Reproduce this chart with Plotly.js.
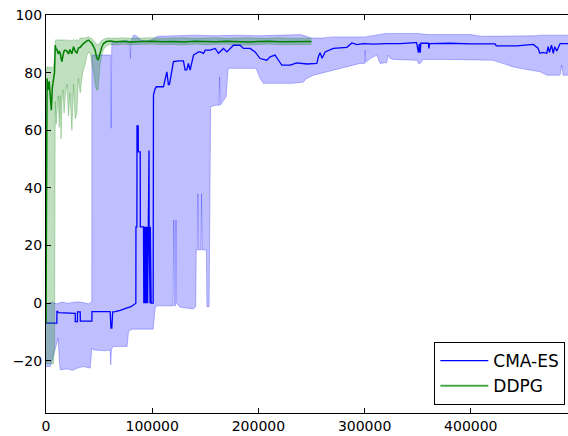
<!DOCTYPE html>
<html><head><meta charset="utf-8">
<script src="https://cdn.plot.ly/plotly-3.0.1.min.js"></script>
<style>html,body{margin:0;padding:0;overflow:hidden;background:#fff}#chart{width:577px;height:436px}</style>
</head><body><div id="chart"></div>
<script>
const seriesNames = ['CMA-ES', 'DDPG'];
const xTicks = [0, 100000, 200000, 300000, 400000, 500000];
const yTicks = [-20, 0, 20, 40, 60, 80, 100];

// CMA-ES mean
const cmaX = [0,10200,10300,12000,27500,27600,29600,29700,32200,32300,43200,43300,60400,61200,62000,62800,65100,70000,75000,80000,82400,84000,84600,84700,85600,85700,86800,86900,88700,88800,91800,92100,92400,92700,93000,93300,93600,93900,94200,94500,94800,95100,95400,95700,96000,96300,96500,96600,97000,97100,97400,97700,98000,98300,98600,98900,99000,100900,101200,102800,104000,110600,112200,113800,115300,116300,120000,125000,129400,131000,132600,134100,135700,138900,143600,145200,148300,150000,154600,159300,162400,167100,170300,176500,182800,185900,192200,196900,201600,207900,211100,215700,218900,222100,229900,236200,245600,255000,256500,258100,260000,262800,270600,283300,288000,292700,298900,308300,320900,333400,347600,349000,350700,351500,352300,353000,360100,360500,361200,380000,400000,422900,424000,443300,458900,463300,465000,468000,471500,472800,474000,476000,477700,479000,481000,484100,492000];
const cmaMean = [-6.9,-6.9,-2.7,-3.3,-3.5,-6.4,-6.4,-3.0,-3.0,-6.2,-6.2,-2.9,-2.9,-8.6,-8.6,-3.0,-2.9,-2.5,-1.8,-1.2,-0.6,0,0,26.5,26.5,61.5,61.5,52.5,52.5,26.5,26.5,0,26.5,0,26.5,0,26.5,0,26.5,0,26.5,0,26.5,0,26.5,0,26.5,53,53,26.5,0,26.5,0,26.5,0,26.5,0,0,72.2,74.5,75.1,75.1,77.4,80.3,75.7,76,83.8,84.1,84.1,80.9,81,83.2,80.9,86.1,87.2,87.2,86.7,87.8,87.8,88.4,86.7,88.4,87.2,89.5,89.5,88.4,88.4,87.2,84.9,84.3,85.5,86.1,84.3,82.6,82.6,83.4,83.0,83.2,85.5,86.9,85,87.2,88.4,88.8,90.3,89.7,90.1,89.9,90.1,90.1,90.4,90.4,86.9,90,86.9,90.2,90.2,88.4,90.1,90.2,90.0,90.0,89.3,89.3,89.8,88.5,86.7,87,86.7,89,87,89.5,86.7,89,87.5,90.1,90.1];

// CMA-ES band upper
const cmaUpX = [0,5000,10000,15000,20000,25000,30000,35000,40000,43100,43200,61000,61400,61800,62000,70000,75000,79000,79500,80000,82000,84000,86000,88000,90000,95000,100000,105000,120000,140000,160000,180000,200000,220000,240000,250000,260000,270000,300000,320000,350000,360000,400000,410000,440000,460000,465000,492000];
const cmaUp = [-0.3,0.3,-0.2,0.4,0,0.2,0.5,0.2,-0.2,0.3,86.1,86.1,60.7,86.1,90.7,90.5,91.2,90.8,85,90.8,92.8,93,92.5,91.5,91.2,91,91.5,92.6,92.8,93,92.8,93,92.8,93,93.2,92,92,92.4,92.4,93.6,93.6,93.2,93.2,92.6,92.6,92.8,93,93];

// CMA-ES band lower
const cmaLoX = [0,4000,5600,11500,12500,13400,20000,25000,30000,35000,41600,43200,44700,55000,60400,61000,61600,63300,70000,76400,77700,80900,90000,100900,102800,104400,119700,120300,120800,122000,122400,122900,126300,138600,141000,141500,142500,143000,143500,146000,146500,147000,151000,151500,153600,155000,160000,163000,163500,164000,169600,171500,197800,201600,204700,232700,242100,245600,251800,264400,276900,295800,300000,300500,301000,305200,308300,311500,314600,320900,322400,324000,326800,349400,350700,352300,355100,377700,421000,430400,439800,451000,465200,471800,484100,485600,486900,492000];
const cmaLo = [-22,-22,-20,-12.1,-20,-23.1,-22.8,-23.3,-22.5,-22,-22.5,-15.6,-16.2,-16.5,-16.2,-21.4,-16,-15,-15,-15,-9.8,-9,-9,-9,-1.7,-0.9,-0.9,28.9,-0.9,-0.9,28.9,0,-1.4,-2,-1.2,18.5,18.5,38,18.5,18.5,38,18.5,18.5,-1.2,-1.2,68.2,68.7,68.7,78.5,68.7,71.6,81.5,81.5,78.0,76.3,76.3,76.7,78.0,79.1,80.3,81.5,83.2,83.2,87.8,83.5,84.9,85.5,86,83.2,83.5,86.1,84.9,84.6,84.3,83.2,83.2,84.6,84.6,84.3,83.2,82.0,81.2,80.3,79.1,79.1,82.6,79.1,79.1];

// DDPG
const ddpgX = [0,500,1000,2000,3000,4000,5000,6000,7000,8000,8700,9500,10300,11500,12500,13400,14200,15000,16000,17000,18100,19700,21200,22500,24400,25900,27500,29100,30500,32200,34500,36900,38500,40000,41500,43200,44800,46300,47500,48900,50000,51000,52500,54100,57000,60400,66000,72000,80000,90000,100000,110000,120000,130000,140000,150000,160000,170000,180000,190000,200000,210000,220000,230000,240000,250000];
const ddpgMean = [-7,55,78,74,77,72,67,75,78,80,89.5,88,88,86.5,87.5,86.7,85,83.8,86,87.5,87.8,87.5,86.5,88,86.5,89,87.5,86.7,88.5,88.8,89.8,90.7,91,91.3,90.8,90.1,89,87.8,85.5,84.3,85.5,87,88.8,90.1,90.8,91.0,90.7,90.9,90.6,90.8,90.9,90.7,90.8,90.6,90.9,90.8,90.7,90.9,90.8,90.6,90.8,90.9,90.7,90.8,90.9,90.8];
const ddpgLo = [-21,-21,-21,-21,-21,-21,-21,-21,-21,-15,70,62,66,72,61,72,57,70,74,66,72,76,65,73,60,76,64,66,78,73,80,83,86,87,87,84,80,76,74,74,79,83,86,88,89.3,89.8,89.6,89.9,89.7,89.8,89.9,89.7,89.8,89.6,89.9,89.7,89.8,89.9,89.7,89.6,89.8,89.9,89.7,89.8,89.9,89.8];
const ddpgUp = [80,81,82,82,81.5,82,82,81.5,82,85,91,91.5,91,91.5,91,91.5,91,91.5,91,91.5,91,91.5,91,91.3,91,91.5,91,91.5,91,92,92,92,92.3,92.5,92,91.8,91,90.5,90,89.5,90,90.5,91.2,91.5,92,92,91.9,92.1,91.9,92,92.1,91.9,92,92.1,91.9,92,92.1,91.9,92,92.1,91.9,92,92.1,91.9,92,91.9];

const blueBand = 'rgba(0,0,255,0.25)';
const greenBand = 'rgba(0,128,0,0.25)';

const traces = [
  {x: cmaLoX, y: cmaLo, mode: 'lines', line: {color: blueBand, width: 1}, showlegend: false, hoverinfo: 'skip'},
  {x: cmaUpX, y: cmaUp, mode: 'lines', fill: 'tonexty', fillcolor: blueBand, line: {color: blueBand, width: 1}, showlegend: false, hoverinfo: 'skip'},
  {x: cmaX, y: cmaMean, mode: 'lines', name: seriesNames[0], line: {color: 'rgb(0,0,255)', width: 1.3}},
  {x: ddpgX, y: ddpgLo, mode: 'lines', line: {color: greenBand, width: 1}, showlegend: false, hoverinfo: 'skip'},
  {x: ddpgX, y: ddpgUp, mode: 'lines', fill: 'tonexty', fillcolor: greenBand, line: {color: greenBand, width: 1}, showlegend: false, hoverinfo: 'skip'},
  {x: ddpgX, y: ddpgMean, mode: 'lines', line: {color: 'rgb(0,128,0)', width: 1.5}, showlegend: false},
  {x: [null], y: [null], mode: 'lines', name: seriesNames[1], line: {color: 'rgb(76,166,76)', width: 2}}
];

const axisCommon = {
  showgrid: false, zeroline: false, showline: true, linecolor: '#000', linewidth: 1,
  mirror: 'ticks', ticks: 'inside', ticklen: 5, tickcolor: '#000', tickwidth: 1,
  tickfont: {family: 'DejaVu Sans', size: 14, color: '#000'}
};

const layout = {
  width: 577, height: 436,
  margin: {l: 46, r: 0, t: 15, b: 23},
  paper_bgcolor: '#fff', plot_bgcolor: '#fff',
  xaxis: Object.assign({}, axisCommon, {range: [0, 500000], tickvals: xTicks, ticktext: xTicks.map(String)}),
  yaxis: Object.assign({}, axisCommon, {range: [-38.1, 100], tickvals: yTicks}),
  legend: {x: 0.978, y: 0.02, xanchor: 'right', yanchor: 'bottom', bgcolor: '#fff', bordercolor: '#000', borderwidth: 1,
           font: {family: 'DejaVu Sans', size: 17, color: '#000'}, itemwidth: 48, traceorder: 'normal'},
  showlegend: true
};

Plotly.newPlot('chart', traces, layout, {staticPlot: true, displayModeBar: false});
</script>
</body></html>
